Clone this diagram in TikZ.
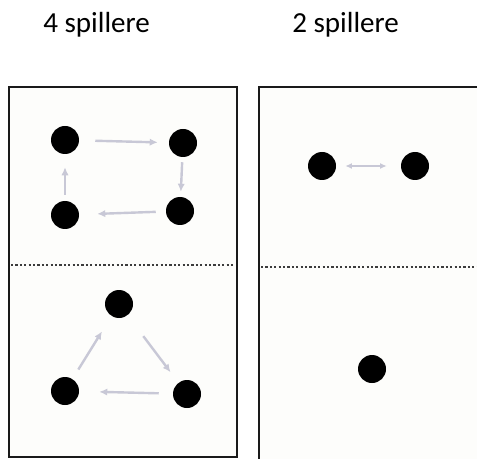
\documentclass[tikz,border=0pt]{standalone}
\usepackage{fontspec}
\setmainfont{Carlito}
\usetikzlibrary{arrows.meta}
\definecolor{pathgray}{HTML}{C8C8D6}
\definecolor{fieldbg}{HTML}{FDFDFB}
\definecolor{frame}{HTML}{1A1A1A}
\tikzset{
  player/.style={circle, fill=black, inner sep=0pt, minimum size=21pt},
  field/.style={draw=frame, line width=2.1pt, fill=fieldbg},
  midline/.style={draw=frame!85, line width=1.8pt, dash pattern=on 1.6pt off 1.7pt},
  pass/.style={draw=pathgray, line width=1.8pt, -{Latex[length=6pt,width=5.5pt]}},
  passboth/.style={draw=pathgray, line width=1.1pt, {Latex[length=5pt,width=4.5pt]}-{Latex[length=5pt,width=4.5pt]}},
  caption/.style={anchor=base west, inner sep=0pt, font=\fontsize{21.8}{26}\selectfont}
}
\begin{document}
\begin{tikzpicture}[x=0.75pt, y=-0.75pt]
  \useasboundingbox (0,0) rectangle (477,459);
  \clip (0,0) rectangle (477,459);

  % headings
  \node[caption] (h4) at (43,33) {4 spillere};
  \node[caption] (h2) at (292,33) {2 spillere};

  % fields
  \path[field] (9,87) rectangle (237,457);
  \path[field] (259,87) rectangle (490,470);
  \draw[midline] (11,265) -- (235,265);
  \draw[midline] (261,267) -- (477,267);

  % four players: square rotation
  \node[player] (a) at (65,140) {};
  \node[player] (b) at (183,143) {};
  \node[player] (c) at (180,211) {};
  \node[player] (d) at (65,215) {};
  \draw[pass, shorten <=12pt, shorten >=8.25pt] (a) -- (b);
  \draw[pass, shorten <=3.75pt, shorten >=3.75pt] (b) -- (c);
  \draw[pass, shorten <=7.5pt, shorten >=13.5pt] (c) -- (d);
  \draw[pass, shorten <=4.5pt, shorten >=9.75pt] (d) -- (a);

  % three players: triangle rotation
  \node[player] (t) at (119,304) {};
  \node[player] (l) at (65,391) {};
  \node[player] (r) at (187,394) {};
  \draw[pass, shorten <=8.25pt, shorten >=13.5pt] (l) -- (t);
  \draw[pass, shorten <=19.5pt, shorten >=9.75pt] (t) -- (r);
  \draw[pass, shorten <=10.5pt, shorten >=15pt] (r) -- (l);

  % two players: passing back and forth
  \node[player] (p) at (322,166) {};
  \node[player] (q) at (415,166) {};
  \draw[passboth, shorten <=6.75pt, shorten >=10.5pt] (p) -- (q);

  % single player
  \node[player] (s) at (372,369) {};
\end{tikzpicture}
\end{document}
